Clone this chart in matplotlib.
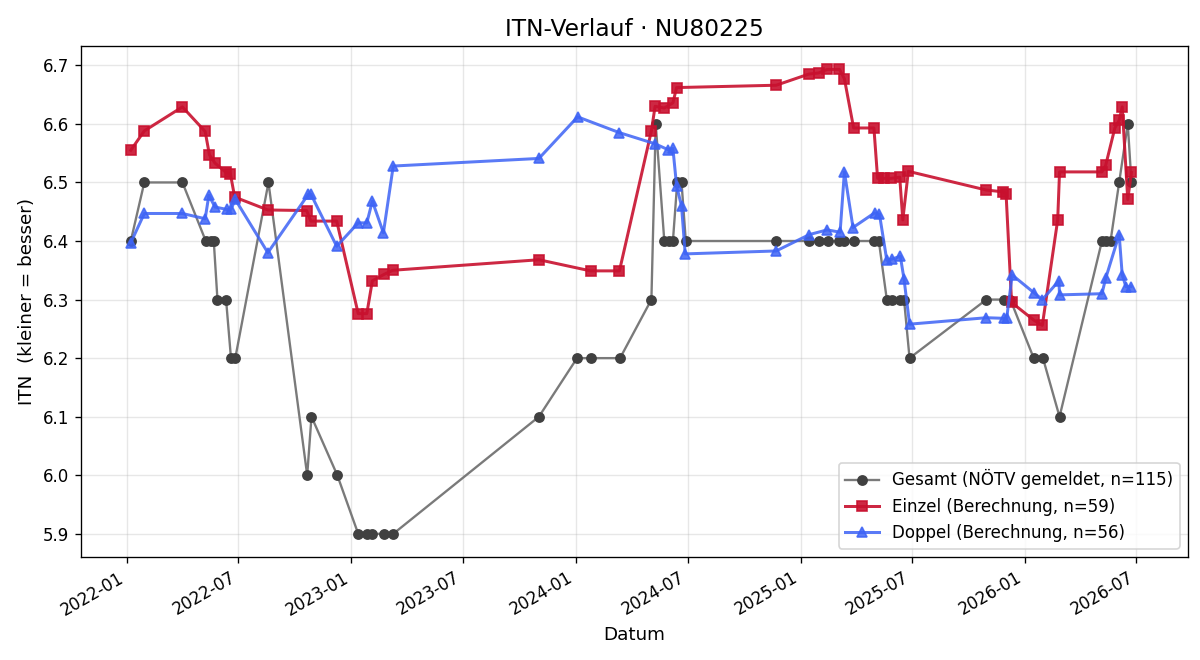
import matplotlib
matplotlib.use("Agg")
import matplotlib.pyplot as plt
import matplotlib.dates as mdates
import pandas as pd

gesamt_dates = ["2022-01-07","2022-01-29","2022-04-01","2022-05-09","2022-05-17","2022-05-22",
    "2022-05-28","2022-06-11","2022-06-19","2022-06-26","2022-08-19","2022-10-21","2022-10-28",
    "2022-12-09","2023-01-12","2023-01-27","2023-02-04","2023-02-23","2023-03-10","2023-11-02",
    "2024-01-03","2024-01-26","2024-03-13","2024-05-03","2024-05-10","2024-05-24","2024-05-31",
    "2024-06-07","2024-06-14","2024-06-21","2024-06-28","2024-11-22","2025-01-15","2025-01-30",
    "2025-02-14","2025-03-05","2025-03-12","2025-03-29","2025-04-30","2025-05-08","2025-05-21",
    "2025-05-30","2025-06-12","2025-06-18","2025-06-27","2025-10-30","2025-11-27","2025-12-08",
    "2026-01-15","2026-01-30","2026-02-26","2026-05-06","2026-05-13","2026-05-20","2026-06-03",
    "2026-06-17","2026-06-23"]
gesamt_vals = [6.4,6.5,6.5,6.4,6.4,6.4,
    6.3,6.3,6.2,6.2,6.5,6.0,6.1,
    6.0,5.9,5.9,5.9,5.9,5.9,6.1,
    6.2,6.2,6.2,6.3,6.6,6.4,6.4,
    6.4,6.5,6.5,6.4,6.4,6.4,6.4,
    6.4,6.4,6.4,6.4,6.4,6.4,6.3,
    6.3,6.3,6.3,6.2,6.3,6.3,6.3,
    6.2,6.2,6.1,6.4,6.4,6.4,6.5,
    6.6,6.5]

einzel_dates = ["2022-01-07","2022-01-29","2022-04-01","2022-05-08","2022-05-15","2022-05-24",
    "2022-06-11","2022-06-18","2022-06-25","2022-08-18","2022-10-20","2022-10-27","2022-12-08",
    "2023-01-12","2023-01-26","2023-02-04","2023-02-23","2023-03-09","2023-11-02","2024-01-25",
    "2024-03-12","2024-05-03","2024-05-09","2024-05-24","2024-06-07","2024-06-13","2024-11-22",
    "2025-01-14","2025-01-30","2025-02-13","2025-03-05","2025-03-13","2025-03-28","2025-04-30",
    "2025-05-06","2025-05-17","2025-05-28","2025-06-11","2025-06-16","2025-06-25","2025-10-30",
    "2025-11-26","2025-12-01","2025-12-10","2026-01-15","2026-01-29","2026-02-23","2026-02-26",
    "2026-05-06","2026-05-12","2026-05-27","2026-06-03","2026-06-08","2026-06-17","2026-06-23"]
einzel_vals = [6.555,6.588,6.629,6.587,6.547,6.533,
    6.517,6.515,6.475,6.453,6.452,6.434,6.434,
    6.276,6.276,6.332,6.343,6.350,6.368,6.349,
    6.349,6.588,6.630,6.627,6.636,6.662,6.666,
    6.685,6.687,6.693,6.693,6.677,6.593,6.593,
    6.507,6.507,6.507,6.509,6.436,6.519,6.487,
    6.484,6.481,6.295,6.265,6.256,6.436,6.518,
    6.518,6.529,6.593,6.606,6.629,6.471,6.517]

doppel_dates = ["2022-01-07","2022-01-29","2022-04-01","2022-05-08","2022-05-14","2022-05-24",
    "2022-06-12","2022-06-19","2022-06-26","2022-08-18","2022-10-23","2022-10-27","2022-12-08",
    "2023-01-12","2023-01-26","2023-02-04","2023-02-22","2023-03-10","2023-11-02","2024-01-04",
    "2024-03-12","2024-05-09","2024-05-30","2024-06-07","2024-06-13","2024-06-21","2024-06-27",
    "2024-11-22","2025-01-15","2025-02-13","2025-03-06","2025-03-13","2025-03-27","2025-05-01",
    "2025-05-09","2025-05-21","2025-05-29","2025-06-12","2025-06-18","2025-06-27","2025-10-30",
    "2025-11-27","2025-12-02","2025-12-11","2026-01-15","2026-01-29","2026-02-25","2026-02-26",
    "2026-05-06","2026-05-12","2026-06-03","2026-06-08","2026-06-14","2026-06-22"]
doppel_vals = [6.397,6.447,6.447,6.438,6.478,6.458,
    6.454,6.454,6.471,6.380,6.480,6.480,6.391,
    6.431,6.431,6.468,6.414,6.528,6.541,6.612,
    6.585,6.566,6.556,6.558,6.494,6.460,6.378,
    6.383,6.411,6.419,6.415,6.518,6.423,6.448,
    6.446,6.367,6.369,6.374,6.335,6.258,6.269,
    6.268,6.268,6.342,6.312,6.300,6.332,6.308,
    6.310,6.336,6.411,6.342,6.322,6.322]

labels = ["Gesamt (NÖTV gemeldet, n=115)", "Einzel (Berechnung, n=59)", "Doppel (Berechnung, n=56)"]
x_range = ["2021-10-18", "2026-09-23"]

fig, ax = plt.subplots(figsize=(10, 5.5), dpi=120)

ax.plot(pd.to_datetime(gesamt_dates), gesamt_vals, color="#7a7a7a", lw=1.4,
        marker="o", markersize=5.5, markerfacecolor="#404040", markeredgecolor="#404040",
        label=labels[0], zorder=2)
ax.plot(pd.to_datetime(einzel_dates), einzel_vals, color="#c8102e", lw=1.8, alpha=0.9,
        marker="s", markersize=6.5, label=labels[1], zorder=3)
ax.plot(pd.to_datetime(doppel_dates), doppel_vals, color="#3d63f5", lw=1.8, alpha=0.85,
        marker="^", markersize=6.5, label=labels[2], zorder=3)

ax.set_xlim(pd.to_datetime(x_range[0]), pd.to_datetime(x_range[1]))
ax.set_title("ITN-Verlauf · NU80225", fontsize=14)
ax.set_xlabel("Datum", fontsize=11)
ax.set_ylabel("ITN  (kleiner = besser)", fontsize=11)
ax.grid(True, alpha=0.3)
ax.xaxis.set_major_locator(mdates.MonthLocator(bymonth=[1, 7]))
ax.xaxis.set_major_formatter(mdates.DateFormatter("%Y-%m"))
ax.tick_params(labelsize=10)
fig.autofmt_xdate()
ax.legend(loc="lower right", fontsize=10)
fig.subplots_adjust(left=0.0675, right=0.99, top=0.93, bottom=0.156)
fig.savefig("out.png", dpi=120)
